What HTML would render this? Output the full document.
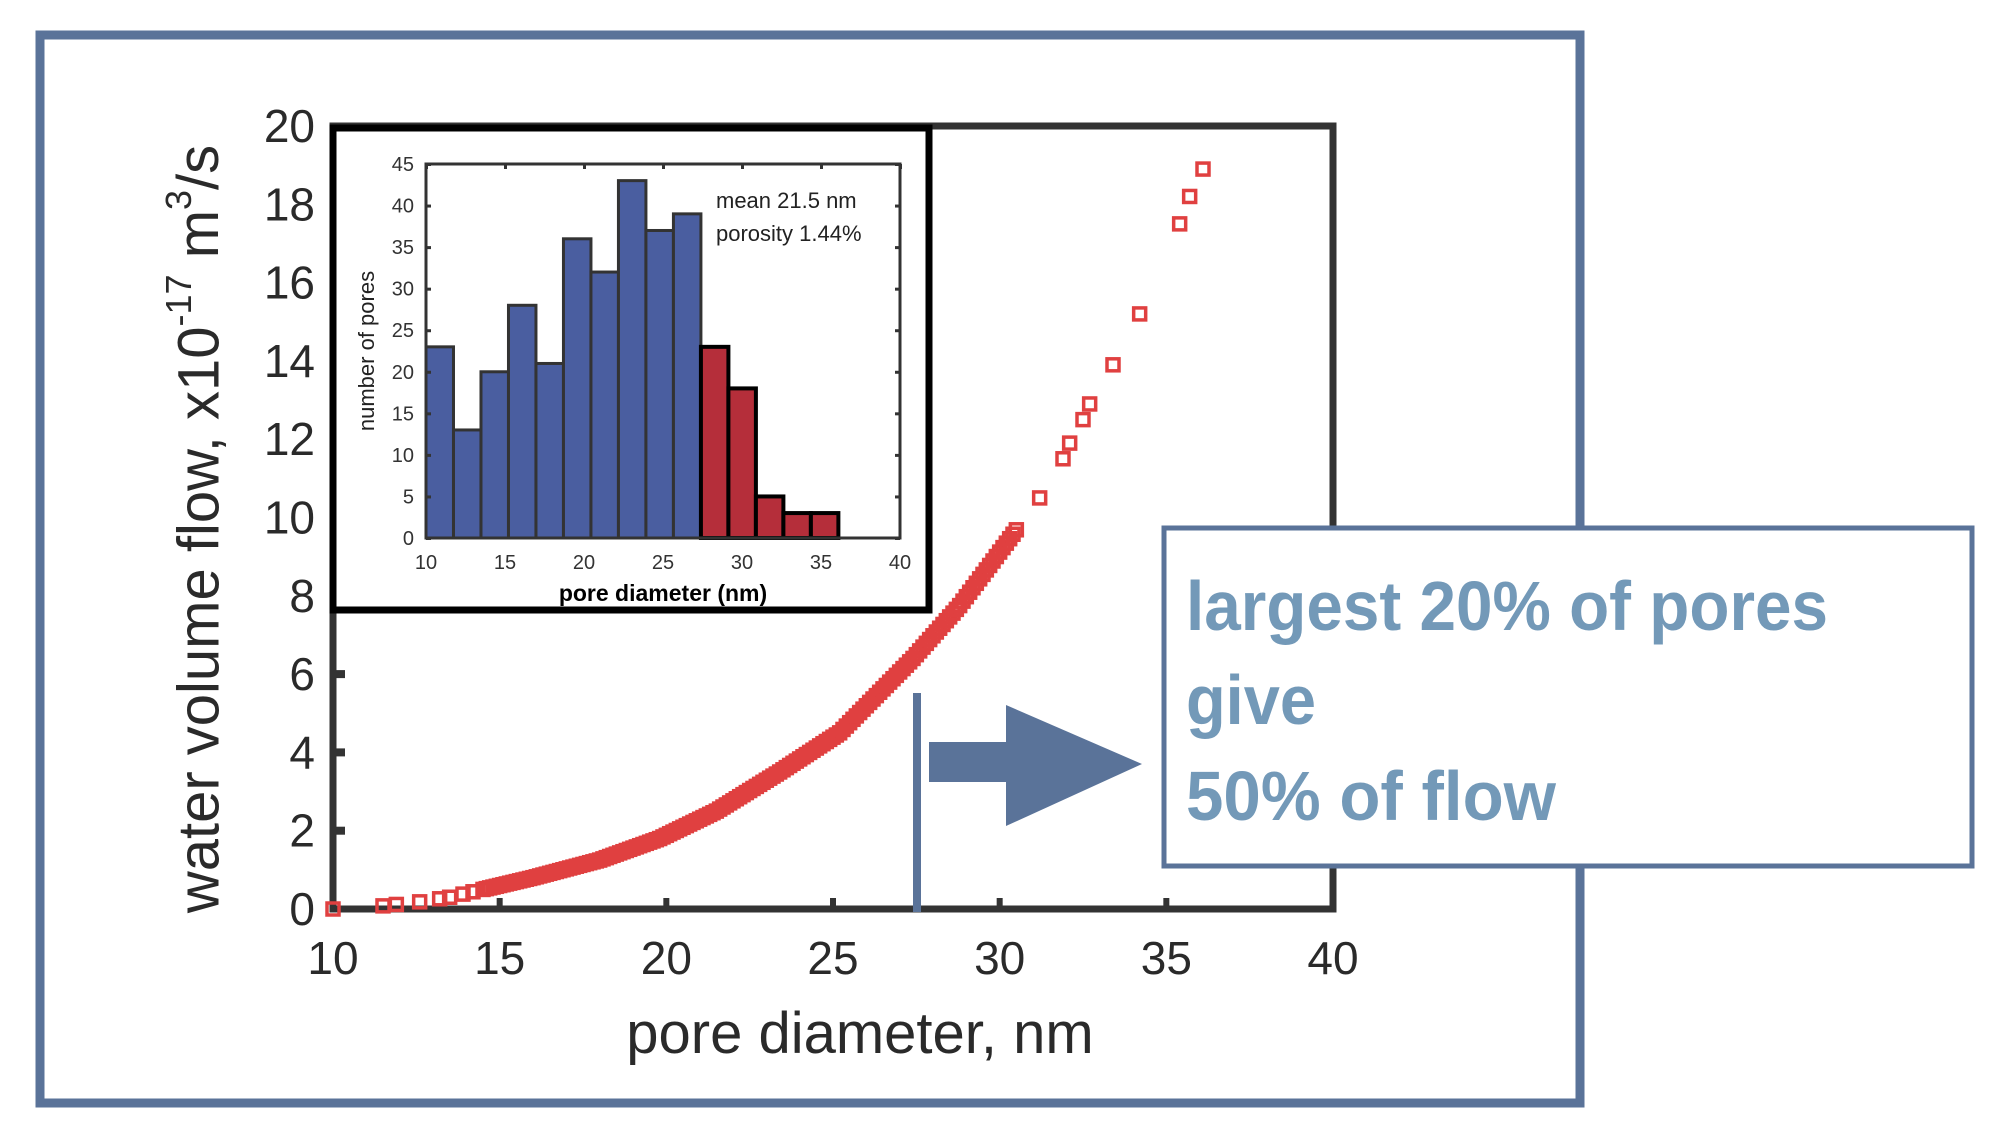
<!DOCTYPE html>
<html><head><meta charset="utf-8"><style>
html,body{margin:0;padding:0;background:#fff;}
svg{display:block;}
text{font-family:"Liberation Sans",sans-serif;}
</style></head><body>
<svg id="s" width="2012" height="1142" viewBox="0 0 2012 1142" xmlns="http://www.w3.org/2000/svg">
<rect x="0" y="0" width="2012" height="1142" fill="#fff"/>
<rect x="40" y="35" width="1540" height="1068" fill="none" stroke="#5a7399" stroke-width="9"/>
<rect x="333" y="126" width="1000" height="783" fill="none" stroke="#333" stroke-width="7"/>
<g id="mticks" fill="#333"></g>
<g font-size="46" fill="#2a2a2a" text-anchor="end" id="ylab"></g>
<g font-size="46" fill="#2a2a2a" text-anchor="middle" id="xlab"></g>
<text x="203" y="529" font-size="58" fill="#2a2a2a" text-anchor="middle" transform="rotate(-90 203 529)" dominant-baseline="middle">water volume flow, x10<tspan font-size="36" dy="-22">-17</tspan><tspan dy="22"> m</tspan><tspan font-size="36" dy="-22">3</tspan><tspan dy="22">/s</tspan></text>
<text x="860" y="1053" font-size="58" fill="#2a2a2a" text-anchor="middle">pore diameter, nm</text>
<g id="pts" fill="none" stroke="#e04040" stroke-width="3.5"></g>
<rect x="333" y="128" width="596" height="482" fill="#fff" stroke="#000" stroke-width="7"/>
<g id="bars"></g>
<rect x="426" y="164" width="474" height="374" fill="none" stroke="#333" stroke-width="3"/>
<g id="iticks" fill="#333"></g>
<g font-size="20" fill="#333" id="ilab"></g>
<text x="368" y="351" font-size="22" fill="#222" text-anchor="middle" transform="rotate(-90 368 351)" dominant-baseline="middle">number of pores</text>
<text x="663" y="601" font-size="23" font-weight="bold" fill="#000" text-anchor="middle">pore diameter (nm)</text>
<text x="716" y="208" font-size="22" fill="#222">mean 21.5 nm</text>
<text x="716" y="241" font-size="22" fill="#222">porosity 1.44%</text>
<rect x="913" y="693" width="8" height="219" fill="#5a7399"/>
<rect x="929" y="742" width="80" height="40" fill="#5a7399"/>
<polygon points="1006,705 1142,764 1006,826" fill="#5a7399"/>
<rect x="1164" y="528" width="808" height="338" fill="#fff" stroke="#5a7399" stroke-width="5"/>
<g font-family="'Liberation Sans Narrow','Liberation Sans',sans-serif" font-weight="bold" font-size="70" fill="#7399b8">
<text x="1186" y="630" textLength="642" lengthAdjust="spacingAndGlyphs">largest 20% of pores</text>
<text x="1186" y="724" textLength="130" lengthAdjust="spacingAndGlyphs">give</text>
<text x="1186" y="820" textLength="370" lengthAdjust="spacingAndGlyphs">50% of flow</text>
</g>
</svg>
<script>
var NS="http://www.w3.org/2000/svg";
function el(p,t,a,txt){var e=document.createElementNS(NS,t);for(var k in a)e.setAttribute(k,a[k]);if(txt!==undefined)e.textContent=txt;document.getElementById(p).appendChild(e);return e;}
function X(d){return 333+(d-10)*1000/30;}
function Y(v){return 909-v*783/20;}
for(var v=0;v<=20;v+=2){el('ylab','text',{x:315,y:Y(v)+16},v);}
for(var d=10;d<=40;d+=5){el('xlab','text',{x:X(d),y:974},d);
 el('mticks','rect',{x:X(d)-3,y:898,width:6,height:9});}
for(var v=2;v<=6;v+=2){el('mticks','rect',{x:336,y:Y(v)-4,width:9,height:8});}
var tbl=[[10,0],[11.5,0.08],[12.5,0.17],[13.5,0.3],[14.5,0.5],[16,0.8],[18,1.25],[19.8,1.8],[21.5,2.5],[23.4,3.5],[25.2,4.5],[27.4,6.4],[28.8,7.75],[30.6,9.8]];
function f(d){for(var i=0;i<tbl.length-1;i++){if(d<=tbl[i+1][0]){var a=tbl[i],b=tbl[i+1];return a[1]+(b[1]-a[1])*(d-a[0])/(b[0]-a[0]);}}return tbl[tbl.length-1][1];}
var ds=[10,11.5,11.9,12.6,13.2,13.5,13.9,14.2];
for(var d=14.5;d<=30.6;d+=0.1)ds.push(d);
var P=ds.map(function(d){return [d,f(d)];});
P=P.concat([[31.2,10.5],[31.9,11.5],[32.1,11.9],[32.5,12.5],[32.7,12.9],[33.4,13.9],[34.2,15.2],[35.4,17.5],[35.7,18.2],[36.1,18.9]]);
P.forEach(function(p){el('pts','rect',{x:X(p[0])-6,y:Y(p[1])-6,width:12,height:12});});
function IX(d){return 426+(d-10)*474/30;}
function IY(v){return 538-v*374/45;}
var h=[23,13,20,28,21,36,32,43,37,39,23,18,5,3,3];var w=1.74;
h.forEach(function(v,i){var red=i>=10;el('bars','rect',{x:IX(10+i*w),y:IY(v),width:w*474/30,height:IY(0)-IY(v),fill:red?'#b52e3a':'#4a5ea0',stroke:red?'#000':'#333','stroke-width':red?4:3});});
for(var v=0;v<=45;v+=5){el('ilab','text',{x:414,y:IY(v)+7,'text-anchor':'end'},v);
 el('iticks','rect',{x:426,y:IY(v)-1,width:5,height:3});el('iticks','rect',{x:895,y:IY(v)-1,width:5,height:3});}
for(var d=10;d<=40;d+=5){el('ilab','text',{x:IX(d),y:569,'text-anchor':'middle'},d);
 el('iticks','rect',{x:IX(d)-1,y:164,width:3,height:5});}
</script>
</body></html>
